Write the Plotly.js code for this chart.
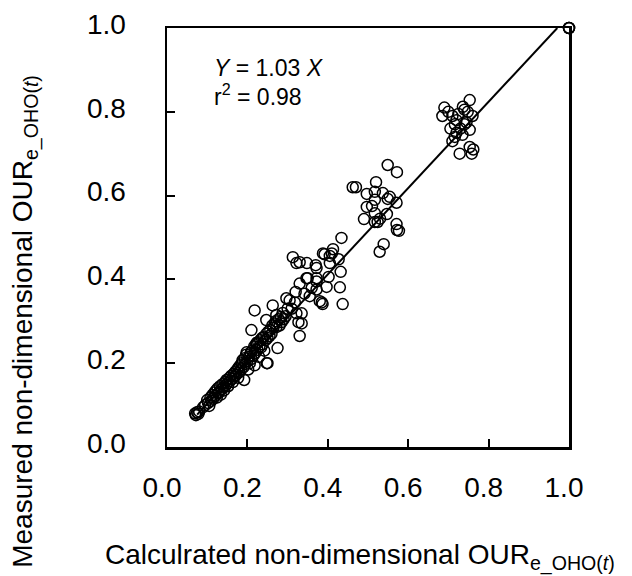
<!DOCTYPE html>
<html>
<head>
<meta charset="utf-8">
<script src="https://cdn.plot.ly/plotly-3.0.1.min.js"></script>
<style>html,body{margin:0;padding:0;background:#fff}#chart{width:632px;height:576px}</style>
</head>
<body>
<div id="chart"></div>
<script>
// Calculated (x) vs measured (y) non-dimensional OUR values
const calcLow = [0.070,0.072,0.075,0.078,0.080,0.090,0.095,0.100,0.102,0.105,0.108,0.110,0.113,0.115,0.118,0.120,0.122,0.124,0.126,0.128,0.130,0.132,0.134,0.136,0.138,0.140,0.142,0.145,0.147,0.148,0.150,0.152,0.155,0.157,0.160,0.162,0.164,0.166,0.168,0.170,0.172,0.175,0.177,0.178,0.180,0.182,0.184,0.186,0.188,0.190,0.192,0.193,0.195,0.197,0.198,0.200,0.202,0.204,0.206,0.208,0.210,0.212,0.215,0.217,0.218,0.220,0.222,0.223,0.225,0.227,0.229,0.230,0.232,0.234,0.236,0.238,0.240,0.242,0.245,0.247,0.248,0.250,0.252,0.255,0.257,0.260,0.262,0.263,0.265,0.268,0.270,0.272,0.272,0.275,0.278,0.280,0.283,0.285,0.288,0.290,0.297,0.305,0.300,0.295,0.218,0.210,0.247,0.250,0.223];
const measLow = [0.080,0.076,0.083,0.079,0.085,0.095,0.100,0.112,0.105,0.098,0.118,0.110,0.124,0.115,0.130,0.122,0.135,0.118,0.140,0.128,0.132,0.145,0.125,0.138,0.150,0.142,0.135,0.155,0.148,0.160,0.152,0.145,0.165,0.158,0.170,0.162,0.155,0.175,0.168,0.180,0.172,0.185,0.165,0.190,0.178,0.195,0.185,0.200,0.207,0.190,0.160,0.212,0.198,0.220,0.226,0.205,0.185,0.215,0.200,0.225,0.210,0.230,0.218,0.240,0.195,0.225,0.245,0.248,0.232,0.250,0.215,0.240,0.255,0.238,0.260,0.245,0.262,0.230,0.255,0.270,0.200,0.260,0.275,0.265,0.280,0.270,0.290,0.338,0.285,0.295,0.300,0.315,0.286,0.236,0.305,0.290,0.310,0.298,0.320,0.305,0.355,0.350,0.330,0.312,0.326,0.279,0.303,0.200,0.248];
const calcMid = [0.313,0.322,0.348,0.370,0.388,0.410,0.330,0.350,0.372,0.397,0.432,0.430,0.437,0.385,0.342,0.327,0.322,0.330,0.335,0.335,0.434,0.413,0.392,0.405,0.427,0.372,0.330,0.405,0.347,0.372,0.402,0.372,0.380,0.387,0.310,0.318,0.360,0.355,0.320];
const measMid = [0.453,0.439,0.439,0.434,0.462,0.462,0.390,0.403,0.395,0.382,0.418,0.381,0.341,0.345,0.366,0.298,0.319,0.265,0.319,0.295,0.499,0.472,0.460,0.456,0.448,0.427,0.441,0.439,0.403,0.403,0.406,0.376,0.348,0.341,0.330,0.345,0.380,0.360,0.370];
const calcUpperMid = [0.549,0.572,0.462,0.470,0.520,0.497,0.517,0.537,0.554,0.549,0.571,0.517,0.497,0.517,0.547,0.490,0.517,0.524,0.571,0.572,0.577,0.539,0.529,0.510,0.530];
const measUpperMid = [0.673,0.656,0.620,0.620,0.632,0.604,0.609,0.606,0.597,0.592,0.583,0.590,0.573,0.558,0.556,0.544,0.537,0.537,0.532,0.518,0.516,0.484,0.466,0.575,0.545];
const calcUpper = [0.690,0.700,0.685,0.710,0.720,0.716,0.730,0.720,0.736,0.740,0.753,0.760,0.748,0.740,0.753,0.716,0.710,0.728,0.758,0.753,0.705,0.725,0.745,0.735,0.762,1.000,1.000,1.000];
const measUpper = [0.810,0.800,0.790,0.790,0.780,0.770,0.760,0.750,0.812,0.805,0.828,0.790,0.800,0.770,0.757,0.740,0.730,0.700,0.700,0.716,0.760,0.795,0.775,0.745,0.710,1.000,1.000,1.000];
const fitSlope = 1.03;
const fitX = [0.075, 1 / fitSlope];
const tickVals = [0, 0.2, 0.4, 0.6, 0.8, 1.0];
const tickText = ['0.0', '0.2', '0.4', '0.6', '0.8', '1.0'];

const xs = calcLow.concat(calcMid, calcUpperMid, calcUpper);
const ys = measLow.concat(measMid, measUpperMid, measUpper);
const fitY = fitX.map(v => fitSlope * v);

const FONT = 'Arial, "Liberation Sans", sans-serif';

const traces = [
  {x: fitX, y: fitY, type: 'scatter', mode: 'lines', line: {color: '#000', width: 2}, hoverinfo: 'skip', cliponaxis: false},
  {x: xs, y: ys, type: 'scatter', mode: 'markers', cliponaxis: false,
   marker: {symbol: 'circle-open', size: 11, color: '#000', line: {width: 1.5, color: '#000'}}}
];

const axisCommon = {
  range: [0, 1], tickvals: tickVals, ticktext: tickText,
  showgrid: false, zeroline: false, showline: true, linecolor: '#000', linewidth: 2.5,
  mirror: true, ticks: 'inside', ticklen: 8, tickwidth: 2, tickcolor: '#000',
  tickfont: {family: FONT, size: 28, color: '#000'}
};

const layout = {
  width: 632, height: 576,
  margin: {l: 167, r: 63, t: 28, b: 129},
  paper_bgcolor: '#fff', plot_bgcolor: '#fff',
  showlegend: false,
  xaxis: Object.assign({}, axisCommon, {ticklabelstandoff: 14, ticklabelshift: -5}),
  yaxis: Object.assign({}, axisCommon, {ticklabelstandoff: 33, ticklabelshift: -4}),
  annotations: [
    {xref: 'paper', yref: 'paper', x: 0.479, y: -0.262, xanchor: 'center', yanchor: 'middle', showarrow: false,
     text: 'Calculrated non-dimensional OUR<sub>e_OHO(<i>t</i>)</sub>', font: {family: FONT, size: 28, color: '#000'}},
    {xref: 'paper', yref: 'paper', x: -0.352, y: 0.30, xanchor: 'center', yanchor: 'middle', showarrow: false, textangle: -90,
     text: 'Measured non-dimensional OUR<sub>e_OHO(<i>t</i>)</sub>', font: {family: FONT, size: 28, color: '#000'}},
    {xref: 'paper', yref: 'paper', x: 0.113, y: 0.905, xanchor: 'left', yanchor: 'middle', showarrow: false,
     text: '<i>Y</i> = 1.03 <i>X</i>', font: {family: FONT, size: 23, color: '#000'}},
    {xref: 'paper', yref: 'paper', x: 0.113, y: 0.84, xanchor: 'left', yanchor: 'middle', showarrow: false,
     text: 'r<sup>2</sup> = 0.98', font: {family: FONT, size: 23, color: '#000'}}
  ]
};

Plotly.newPlot('chart', traces, layout, {displayModeBar: false, staticPlot: true});
</script>
</body>
</html>
